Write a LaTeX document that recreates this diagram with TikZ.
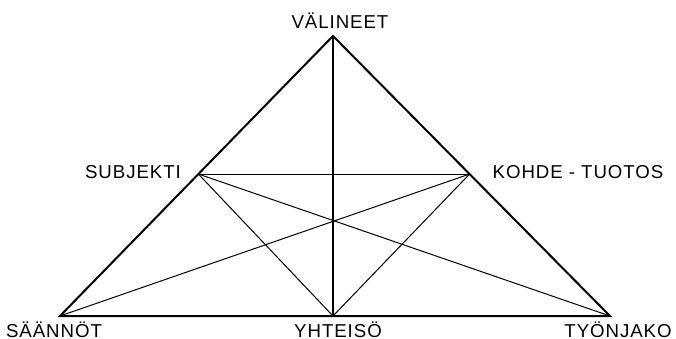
\documentclass[tikz,border=0pt]{standalone}
\usepackage{fontspec}
\setmainfont{Liberation Sans}[LetterSpace=5]
\usetikzlibrary{calc}

\begin{document}
\begin{tikzpicture}[x=0.75pt, y=-0.75pt,
every label node/.style = {font=\fontsize{14}{16}\selectfont, inner sep=0pt, anchor=base},
thick line/.style = {draw, line width=1.5pt, line join=miter},
thin line/.style  = {draw, line width=0.75pt}
                    ]
\useasboundingbox (0,0) rectangle (676,339);
% corners of the triangle
\coordinate (V) at (333,36);
\coordinate (S) at (60,316);
\coordinate (T) at (610,316);
\coordinate (Y) at (333,316);
\coordinate (Su) at ($(V)!0.493!(S)$);
\coordinate (K)  at ($(V)!0.493!(T)$);
%
\path[thick line] (V) -- (S) -- (T) -- cycle;
\path[thick line] (V) -- (Y);
\path[thin line]  (Su) -- (K);
\foreach \a/\b in {Su/Y, K/Y, Su/T, K/S}
    \path[thin line] (\a) -- (\b);
% labels
\node[every label node] (lV) at (340,28)  {VÄLINEET};
\node[every label node] (lSu) at (133,178) {SUBJEKTI};
\node[every label node] (lK) at (578,178) {KOHDE - TUOTOS};
\node[every label node] (lS) at (54,337)  {SÄÄNNÖT};
\node[every label node] (lY) at (338,337) {YHTEISÖ};
\node[every label node] (lT) at (618,337) {TYÖNJAKO};
\end{tikzpicture}
\end{document}
